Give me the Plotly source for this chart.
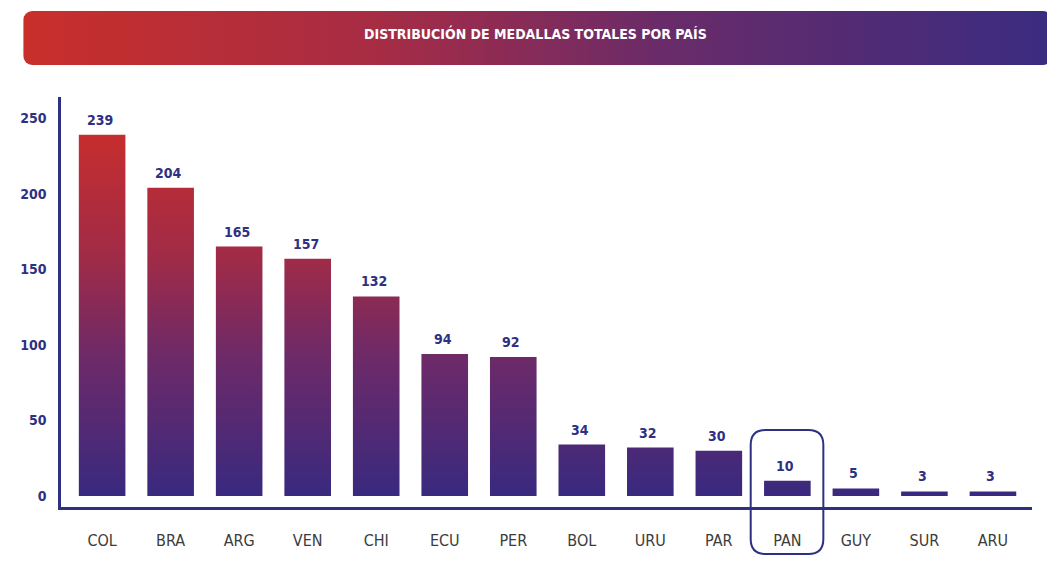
import base64
import plotly.graph_objects as go

# ---- data ----
countries = ["COL", "BRA", "ARG", "VEN", "CHI", "ECU", "PER", "BOL", "URU", "PAR", "PAN", "GUY", "SUR", "ARU"]
medals = [239, 204, 165, 157, 132, 94, 92, 34, 32, 30, 10, 5, 3, 3]
y_ticks = [0, 50, 100, 150, 200, 250]
highlight = "PAN"
title_text = "DISTRIBUCIÓN DE MEDALLAS TOTALES POR PAÍS"

# ---- style ----
OX, OY = 8, 8                      # page body margin compensation
W, H = 1055 - OX, 562 - OY
ML, MR, MT, MB = 55 - OX, 23, 97 - OY, 55
NAVY = "#2e3183"
RED = "#cb2e2b"
BLUE = "#39297f"
FONT = "Liberation Sans Narrow, DejaVu Sans Condensed, Roboto, sans-serif"
BAR_W = 0.68
X_RANGE = [-0.6, len(countries) - 1 + 0.57]
Y_RANGE = [-7.3, 264]
PW, PH = W - ML - MR, H - MT - MB


def px_x(p):  # page pixel x -> paper
    return (p - OX - ML) / PW


def px_y(p):  # page pixel y -> paper
    return (H - MB - (p - OY)) / PH


fig = go.Figure()

# bars as gradient-filled polygons (one trace, segments separated by None)
xs, ys = [], []
for i, v in enumerate(medals):
    l, r = i - BAR_W / 2, i + BAR_W / 2
    xs += [l, r, r, l, l, None]
    ys += [0, 0, v, v, 0, None]
fig.add_trace(go.Scatter(
    x=xs, y=ys, mode="none", fill="toself", hoverinfo="skip", showlegend=False,
    fillgradient=dict(type="vertical", start=0, stop=250,
                      colorscale=[[0, BLUE], [0.38, "#6f2a67"], [0.63, "#a02b47"], [1, RED]]),
))

# value labels
for i, v in enumerate(medals):
    fig.add_annotation(x=i, y=v, text=f"<b>{v}</b>", showarrow=False, yanchor="bottom",
                       yshift=5, xshift=-2, font=dict(family=FONT, size=14, color=NAVY))

# banner via svg image
svg = '''<svg xmlns="http://www.w3.org/2000/svg" width="1035" height="54" viewBox="0 0 1035 54">
<defs><linearGradient id="g" x1="0" y1="0" x2="1" y2="0">
<stop offset="0" stop-color="#c92f2a"/><stop offset="0.35" stop-color="#a62c45"/>
<stop offset="0.62" stop-color="#6a2b69"/><stop offset="1" stop-color="#3a2c80"/></linearGradient></defs>
<rect x="0" y="0" width="1035" height="54" rx="9" ry="9" fill="url(#g)"/></svg>'''
src = "data:image/svg+xml;base64," + base64.b64encode(svg.encode()).decode()
bx0, bx1, by0, by1 = 17, 1052, 11, 65
fig.add_layout_image(source=src, xref="paper", yref="paper",
                     x=px_x(bx0), y=px_y(by0),
                     sizex=(bx1 - bx0) / PW, sizey=(by1 - by0) / PH,
                     sizing="stretch", xanchor="left", yanchor="top", layer="below")
fig.add_annotation(xref="paper", yref="paper", x=px_x(532), y=px_y(33),
                   text=f"<b>{title_text}</b>", showarrow=False, xanchor="center", yanchor="middle",
                   font=dict(family=FONT, size=14, color="white"))

# highlight box
hi = countries.index(highlight)
x0, x1 = hi - 0.535, hi + 0.525
y0p, y1p = px_y(554), px_y(430)
rx = 15 / (PW / (X_RANGE[1] - X_RANGE[0]))
ry = 15 / PH
path = (f"M {x0+rx},{y1p} L {x1-rx},{y1p} Q {x1},{y1p} {x1},{y1p-ry} "
        f"L {x1},{y0p+ry} Q {x1},{y0p} {x1-rx},{y0p} L {x0+rx},{y0p} "
        f"Q {x0},{y0p} {x0},{y0p+ry} L {x0},{y1p-ry} Q {x0},{y1p} {x0+rx},{y1p} Z")
fig.add_shape(type="path", xref="x", yref="paper", path=path,
              line=dict(color=NAVY, width=2), fillcolor="rgba(0,0,0,0)")

fig.update_layout(
    width=W, height=H, margin=dict(l=ML, r=MR, t=MT, b=MB),
    plot_bgcolor="white", paper_bgcolor="white", showlegend=False,
    xaxis=dict(range=X_RANGE, tickvals=list(range(len(countries))), ticktext=countries,
               showgrid=False, zeroline=False, showline=True, linecolor=NAVY, linewidth=2.5,
               ticks="outside", ticklen=17, tickcolor="rgba(0,0,0,0)",
               tickfont=dict(family=FONT, size=16, color="#3c3c3c"), fixedrange=True),
    yaxis=dict(range=Y_RANGE, tickvals=y_ticks, showgrid=False, zeroline=False,
               showline=True, linecolor=NAVY, linewidth=2.5,
               ticks="outside", ticklen=9, tickcolor="rgba(0,0,0,0)",
               tickfont=dict(family=FONT, size=14, color=NAVY, weight="bold"), fixedrange=True),
)

fig.write_html("out.html")
